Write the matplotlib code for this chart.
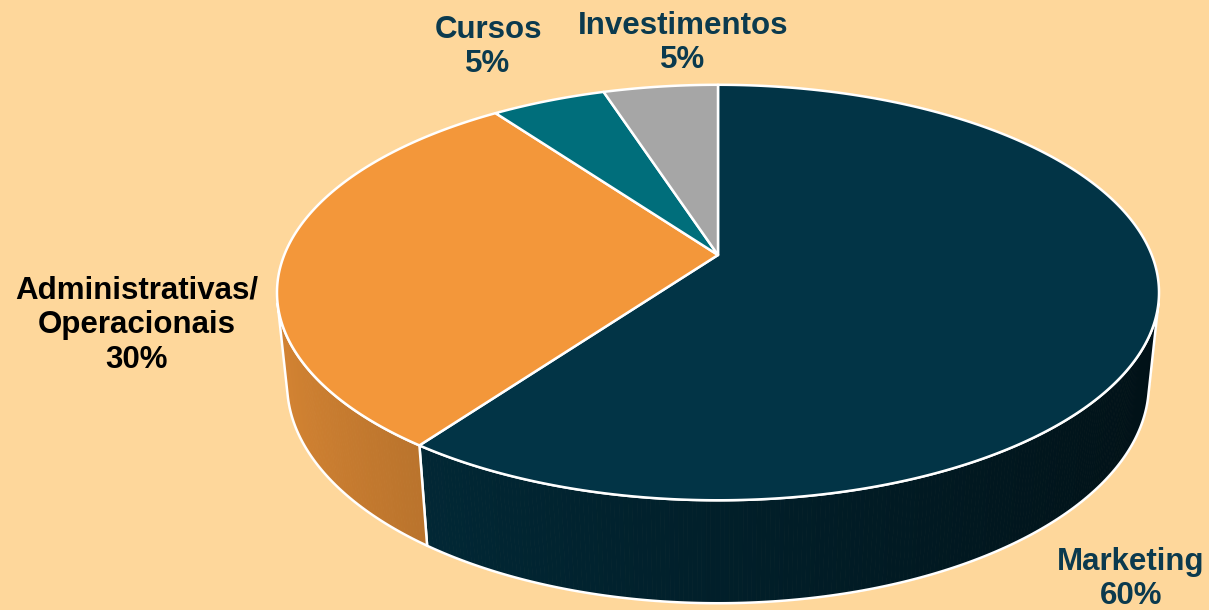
import numpy as np
import matplotlib
matplotlib.use("Agg")
import matplotlib.pyplot as plt
from matplotlib.patches import Polygon
from matplotlib.colors import to_rgb

labels = ["Marketing", "Administrativas/\nOperacionais", "Cursos", "Investimentos"]
shares = [60, 30, 5, 5]
top_colors = ["#023446", "#F3973A", "#006E7B", "#A6A6A6"]
label_colors = ["#0B3A4E", "#000000", "#0B3A4E", "#0B3A4E"]
label_pos = [(1131, 579), (137, 325), (488, 47), (683, 43)]

bg = "#FED79B"

# perspective camera (pixel units, y down)
elev = np.radians(27.6)
dist = 4.906
focal = 2128
cx, cy = 718, 255
thick = 0.24


def project(t, z):     # t in degrees, z height (top=0)
    t = np.radians(t)
    x, y = np.cos(t), np.sin(t)
    zc = dist + y * np.cos(elev) - z * np.sin(elev)
    yc = y * np.sin(elev) + z * np.cos(elev)
    return cx + focal * x / zc, cy - focal * yc / zc


def arc(t0, t1, z, step=0.5):
    n = max(int(abs(t1 - t0) / step), 2)
    t = np.linspace(t0, t1, n)
    px, py = project(t, z)
    return np.column_stack([px, py])


fig = plt.figure(figsize=(12.09, 6.10), dpi=100)
fig.patch.set_facecolor(bg)
ax = fig.add_axes([0, 0, 1, 1])
ax.set_xlim(0, 1209)
ax.set_ylim(610, 0)
ax.axis("off")

fracs = np.array(shares) / sum(shares)
starts = 90 - 360 * np.concatenate([[0], np.cumsum(fracs)[:-1]])
ends = starts - 360 * fracs

# visible part of the outer wall
tv = np.degrees(np.arcsin(-1 / (dist * np.cos(elev))))
vis_lo, vis_hi = -180 - tv, tv

# walls
for s, e, col in zip(starts, ends, top_colors):
    rgb = np.array(to_rgb(col))
    for k in (-1, 0, 1):
        lo = max(e, vis_lo + 360 * k)
        hi = min(s, vis_hi + 360 * k)
        if hi <= lo:
            continue
        tt = np.linspace(lo, hi, max(int((hi - lo) / 0.5), 2))
        for a, b in zip(tt[:-1], tt[1:]):
            f = 0.6 - 0.28 * np.cos(np.radians((a + b) / 2))
            c = np.clip(rgb * f, 0, 1)
            pts = np.vstack([arc(a, b, 0, 1), arc(b, a, -thick, 1)])
            ax.add_patch(Polygon(pts, closed=True, facecolor=c, edgecolor=c, lw=0.6))
        pts = np.vstack([arc(lo, hi, 0), arc(hi, lo, -thick)])
        ax.add_patch(Polygon(pts, closed=True, facecolor="none", edgecolor="white",
                             lw=1.8, joinstyle="round"))

# top faces
for s, e, col in zip(starts, ends, top_colors):
    pts = np.vstack([[cx, cy], arc(s, e, 0)])
    ax.add_patch(Polygon(pts, closed=True, facecolor=col, edgecolor="white",
                         lw=1.8, joinstyle="round"))

# labels
for lab, sh, (lx, ly), lc in zip(labels, shares, label_pos, label_colors):
    ax.text(lx, ly, f"{lab}\n{sh}%", ha="center", va="center", fontsize=22.5,
            fontweight="bold", color=lc, family=["Liberation Sans", "DejaVu Sans"],
            linespacing=1.2)

fig.savefig("out.png", dpi=100, facecolor=bg)
